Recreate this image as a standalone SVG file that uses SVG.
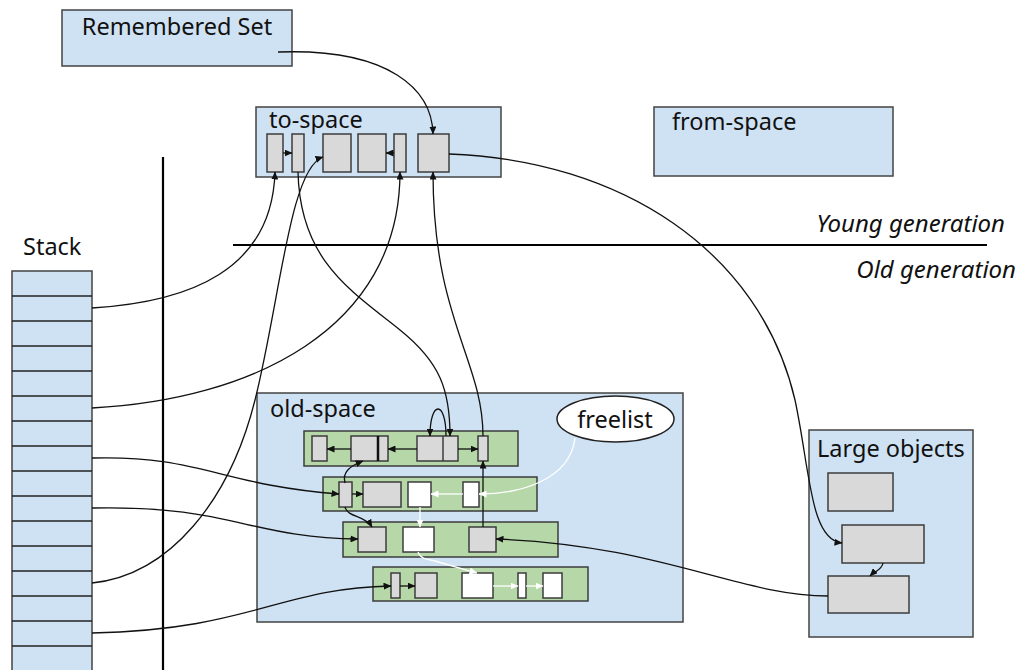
<svg xmlns="http://www.w3.org/2000/svg" width="1021" height="670" viewBox="0 0 1021 670">
<defs>
<style>
.box{fill:#cfe2f3;stroke:#434343;stroke-width:1.5}
.row{fill:#b6d7a8;stroke:#3c3c3c;stroke-width:1.5}
.obj{fill:#d9d9d9;stroke:#3c3c3c;stroke-width:1.5}
.free{fill:#ffffff;stroke:#3c3c3c;stroke-width:1.5}
.lbl{font-family:"Noto Sans","Open Sans",sans-serif;font-size:23.5px;fill:#111}
.it{font-family:"Noto Sans","Open Sans",sans-serif;font-size:24px;font-style:italic;fill:#111}
.c{fill:none;stroke:#111;stroke-width:1.3;marker-end:url(#ab)}
.w{fill:none;stroke:#ffffff;stroke-width:1.3;marker-end:url(#aw)}
.sep{stroke:#000;stroke-width:2.2}
</style>
<marker id="ab" viewBox="0 0 8 7" refX="7.5" refY="3.5" markerWidth="8" markerHeight="7" markerUnits="userSpaceOnUse" orient="auto"><path d="M0,0 L8,3.5 L0,7 z" fill="#111"/></marker>
<marker id="aw" viewBox="0 0 8 7" refX="7.5" refY="3.5" markerWidth="8" markerHeight="7" markerUnits="userSpaceOnUse" orient="auto"><path d="M0,0 L8,3.5 L0,7 z" fill="#ffffff"/></marker>
</defs>

<g id="separators">
<line class="sep" x1="163" y1="157" x2="163" y2="670"/>
<line class="sep" x1="233" y1="245" x2="987" y2="245"/>
<text class="it" x="1005" y="232" text-anchor="end">Young generation</text>
<text class="it" x="1016" y="278" text-anchor="end">Old generation</text>
</g>

<g id="remembered-set">
<rect class="box" x="62" y="10" width="230" height="56"/>
<text class="lbl" x="177" y="35" text-anchor="middle">Remembered Set</text>
</g>

<g id="to-space">
<rect class="box" x="256" y="107" width="245" height="70"/>
<text class="lbl" x="269" y="128">to-space</text>
<rect class="obj" x="267" y="134" width="16" height="38"/>
<rect class="obj" x="292" y="134" width="12" height="38"/>
<rect class="obj" x="323" y="134" width="28" height="38"/>
<rect class="obj" x="358" y="134" width="28" height="38"/>
<rect class="obj" x="394" y="134" width="12" height="38"/>
<rect class="obj" x="418" y="134" width="31" height="38"/>
</g>

<g id="from-space">
<rect class="box" x="654" y="107" width="239" height="69"/>
<text class="lbl" x="672" y="130">from-space</text>
</g>

<g id="stack">
<text class="lbl" x="23" y="255">Stack</text>
<rect class="box" x="12" y="271" width="80" height="410"/>
<g stroke="#222" stroke-width="1.5">
<line x1="12" y1="296" x2="92" y2="296"/>
<line x1="12" y1="321" x2="92" y2="321"/>
<line x1="12" y1="346" x2="92" y2="346"/>
<line x1="12" y1="371" x2="92" y2="371"/>
<line x1="12" y1="396" x2="92" y2="396"/>
<line x1="12" y1="421" x2="92" y2="421"/>
<line x1="12" y1="446" x2="92" y2="446"/>
<line x1="12" y1="471" x2="92" y2="471"/>
<line x1="12" y1="496" x2="92" y2="496"/>
<line x1="12" y1="521" x2="92" y2="521"/>
<line x1="12" y1="546" x2="92" y2="546"/>
<line x1="12" y1="571" x2="92" y2="571"/>
<line x1="12" y1="596" x2="92" y2="596"/>
<line x1="12" y1="621" x2="92" y2="621"/>
<line x1="12" y1="646" x2="92" y2="646"/>
</g>
</g>

<g id="old-space">
<rect class="box" x="257" y="393" width="426" height="229"/>
<text class="lbl" x="270" y="417">old-space</text>
<g id="row1">
<rect class="row" x="304" y="431" width="214" height="35"/>
<rect class="obj" x="312" y="436" width="15" height="25"/>
<rect class="obj" x="351" y="436" width="37" height="25"/>
<line x1="378" y1="436" x2="378" y2="461" stroke="#111" stroke-width="2.5"/>
<rect class="obj" x="417" y="436" width="41" height="25"/>
<line x1="443" y1="436" x2="443" y2="461" stroke="#3c3c3c" stroke-width="1.5"/>
<rect class="obj" x="478" y="436" width="10" height="25"/>
</g>
<g id="row2">
<rect class="row" x="323" y="477" width="214" height="34"/>
<rect class="obj" x="339" y="482" width="13" height="25"/>
<rect class="obj" x="363" y="482" width="38" height="25"/>
<rect class="free" x="408" y="482" width="23" height="25"/>
<rect class="free" x="463" y="482" width="16" height="25"/>
</g>
<g id="row3">
<rect class="row" x="343" y="522" width="215" height="35"/>
<rect class="obj" x="358" y="527" width="28" height="25"/>
<rect class="free" x="403" y="527" width="31" height="25"/>
<rect class="obj" x="469" y="527" width="27" height="25"/>
</g>
<g id="row4">
<rect class="row" x="373" y="567" width="215" height="34"/>
<rect class="obj" x="391" y="573" width="9" height="25"/>
<rect class="obj" x="415" y="573" width="22" height="25"/>
<rect class="free" x="462" y="573" width="31" height="25"/>
<rect class="free" x="518" y="573" width="8" height="25"/>
<rect class="free" x="543" y="573" width="19" height="25"/>
</g>
</g>

<g id="freelist">
<ellipse cx="615.5" cy="419" rx="58.5" ry="23" fill="#ffffff" stroke="#222" stroke-width="1.5"/>
<text class="lbl" x="615" y="428" text-anchor="middle">freelist</text>
</g>

<g id="large-objects">
<rect class="box" x="809" y="430" width="164" height="207"/>
<text class="lbl" x="817" y="457">Large objects</text>
<rect class="obj" x="828" y="473" width="65" height="38"/>
<rect class="obj" x="842" y="525" width="82" height="38"/>
<rect class="obj" x="828" y="576" width="81" height="37"/>
</g>

<g id="connectors">
<path class="c" d="M278,52 C390,48 432,90 433,134"/>
<path class="c" d="M283,153 L292,153"/>
<path class="c" d="M394,153 L386,153"/>
<path class="c" d="M92,308 C190,302 272,270 275,172"/>
<path class="c" d="M92,408 C250,400 400,330 400,172"/>
<path class="c" d="M92,583 C170,575 230,500 255,400 C280,300 290,168 323,157"/>
<path class="c" d="M298,172 C300,260 350,290 400,330 C440,362 450,390 450,436"/>
<path class="c" d="M446,436 C446,400 430,400 430,436"/>
<path class="c" d="M483,436 C483,360 433,320 433,172"/>
<path class="c" d="M449,154 C620,160 760,250 795,400 C810,470 810,540 842,543"/>
<path class="c" d="M883,563 C882,570 875,571 870,576"/>
<path class="c" d="M828,596 C740,596 660,545 496,539"/>
<path class="c" d="M92,458 C200,455 220,485 339,494"/>
<path class="c" d="M92,508 C230,505 250,538 358,539"/>
<path class="c" d="M92,633 C250,630 280,588 391,586"/>
<path class="c" d="M352,494 L363,494"/>
<path class="c" d="M417,449 L388,449"/>
<path class="c" d="M351,449 L327,449"/>
<path class="c" d="M458,449 L478,449"/>
<path class="c" d="M345,483 C342,472 350,466 363,461"/>
<path class="c" d="M345,507 C348,518 365,515 372,527"/>
<path class="c" d="M483,527 L483,461"/>
<path class="c" d="M400,586 L415,586"/>
<path class="w" d="M463,494 L431,494"/>
<path class="w" d="M575,438 C570,480 520,494 479,494"/>
<path class="w" d="M420,507 L420,527"/>
<path class="w" d="M418,552 C420,558 425,559 435,561 L477,573"/>
<path class="w" d="M493,586 L518,586"/>
<path class="w" d="M526,586 L543,586"/>
</g>
</svg>
